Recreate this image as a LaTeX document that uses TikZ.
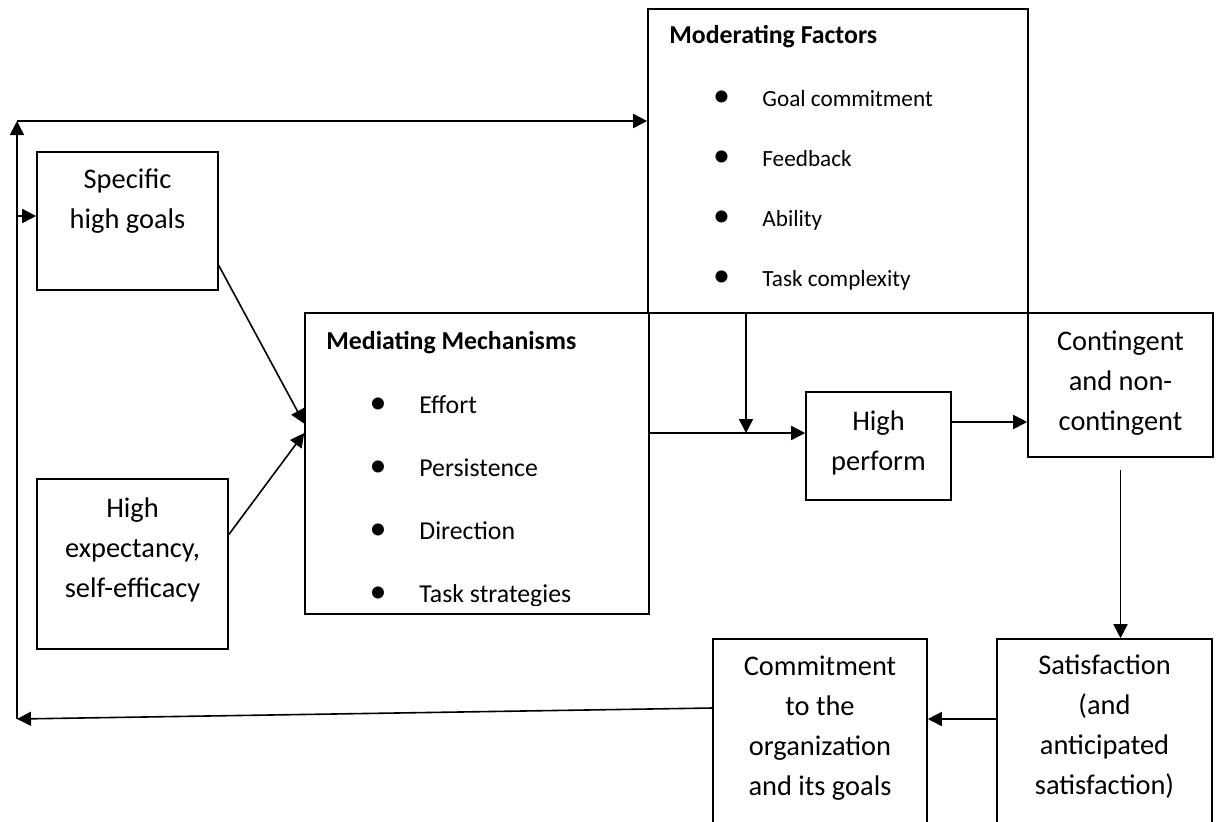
\documentclass[tikz,border=0pt]{standalone}
\usepackage{fontspec}
\setmainfont{Carlito}
\usetikzlibrary{arrows.meta,fit}

\tikzset{
  box/.style={draw, line width=0.8pt, inner sep=0pt},
  boxtext/.style={anchor=base, align=center, inner sep=0pt,
    font=\fontsize{14.2}{20}\selectfont},
  heading/.style={anchor=base west, inner sep=0pt,
    font=\fontsize{12.9}{15}\selectfont\bfseries},
  dot/.style={anchor=base, inner sep=0pt, font=\fontsize{17}{17}\selectfont},
  link/.style={line width=0.8pt, -{Triangle[length=7pt,width=7pt]}},
}

\begin{document}
\begin{tikzpicture}[x=0.5pt, y=-0.5pt]
  \clip (0,0) rectangle (1221,821);

  % Inputs (text nodes sit on their last baseline)
  \node[box, fit={(37,152) (218,290)}] (goals) {};
  \node[boxtext] (goals-t) at (127.5,228) {Specific\\high goals};
  \node[box, fit={(37,479) (228,649)}] (expect) {};
  \node[boxtext] (expect-t) at (132.5,597) {High\\expectancy,\\self-efficacy};

  % Moderating factors
  \node[box, fit={(648,9) (1028,313)}] (moder) {};
  \node[heading] (moder-t) at (669,43) {Moderating Factors};
  \foreach \txt [count=\i] in {Goal commitment, Feedback, Ability, Task complexity} {
    \node[dot] (moder-b\i) at (721.5,{106+60*(\i-1)}) {•};
    \node[anchor=base west, inner sep=0pt, font=\fontsize{11.6}{14}\selectfont]
      (moder-\i) at (762,{106+60*(\i-1)}) {\txt};
  }

  % Mediating mechanisms
  \node[box, fit={(305,313) (649,614)}] (medi) {};
  \node[heading] (medi-t) at (326,349) {Mediating Mechanisms};
  \begin{scope}
    \clip (305,313) rectangle (649,605);
    \foreach \txt [count=\i] in {Effort, Persistence, Direction, Task strategies} {
      \node[dot] (medi-b\i) at (378,{413+63.3*(\i-1)}) {•};
      \node[anchor=base west, inner sep=0pt, font=\fontsize{12.9}{15}\selectfont]
        (medi-\i) at (419,{413+63.3*(\i-1)}) {\txt};
    }
  \end{scope}

  % Outcomes
  \node[box, fit={(806,392) (951,500)}] (perf) {};
  \node[boxtext] (perf-t) at (878.5,470) {High\\perform};
  \node[box, fit={(1028,313) (1213,457)}] (cont) {};
  \node[boxtext] (cont-t) at (1120.5,430) {Contingent\\and non-\\contingent};
  \node[box, fit={(997,639) (1212,870)}] (sat) {};
  \node[boxtext] (sat-t) at (1104.5,794) {Satisfaction\\(and\\anticipated\\satisfaction)};
  \node[box, fit={(713,639) (927,870)}] (commit) {};
  \node[boxtext] (commit-t) at (820,795) {Commitment\\to the\\organization\\and its goals};

  \coordinate (join) at (746,433);
  \coordinate (loopbl) at (17,719);
  \coordinate (looptl) at (17,121);

  % Connectors
  \draw[link] (goals.-26) -- (medi.167);
  \draw[link] (expect.17) -- (medi.170);
  \draw[link] (join |- moder.south) -- (join);
  \draw[link] (medi.east |- join) -- (join -| perf.west);
  \draw[link] ([yshift=12pt]perf.east) -- ([yshift=12pt]perf.east -| cont.west);
  \draw[link] ([yshift=-6pt]cont.south) -- (sat.north -| cont.south);
  \draw[link] ([yshift=17.75pt]sat.west) -- ([yshift=17.75pt]sat.west -| commit.east);

  % Feedback loop
  \draw[link] ([yshift=23.25pt]commit.west) -- (loopbl);
  \draw[link] (loopbl) -- (looptl);
  \draw[link] (looptl) -- (looptl -| moder.west);
  \draw[link] ([yshift=2.5pt]goals.west -| looptl) -- ([yshift=2.5pt]goals.west);
\end{tikzpicture}
\end{document}
